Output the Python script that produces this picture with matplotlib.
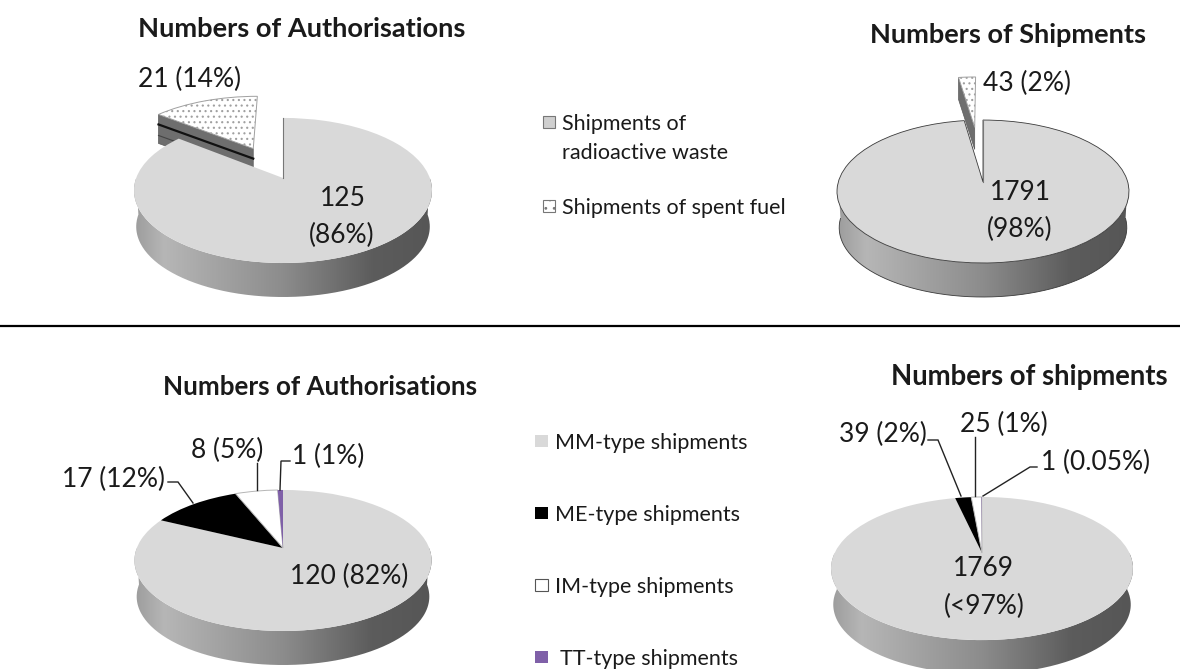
import numpy as np
import matplotlib
matplotlib.use("Agg")
import matplotlib.pyplot as plt
from matplotlib.colors import LinearSegmentedColormap
from matplotlib.path import Path
from matplotlib.patches import Polygon, Rectangle
from matplotlib.transforms import Transform

plt.rcParams['font.family'] = ['Lato', 'DejaVu Sans']
plt.rcParams['hatch.linewidth'] = 0.8

# ---- data ----
waste_vs_fuel_auth = [125, 21]
waste_vs_fuel_ship = [1791, 43]
types_auth = [120, 17, 8, 1]
types_ship = [1769, 39, 25, 1]

colors_top = ['#d9d9d9', 'white']
colors_bottom = ['#d9d9d9', 'black', 'white', '#7f60a8']

GREY = '#d9d9d9'
TEXT = '#1a1a1a'
W, H = 1180, 669

fig = plt.figure(figsize=(W / 100, H / 100), dpi=100)
ax = fig.add_axes([0, 0, 1, 1])

ramp = LinearSegmentedColormap.from_list(
    'rim', [(0, '#9c9c9c'), (0.1, '#b6b6b6'), (0.5, '#8c8c8c'), (0.8, '#5c5c5c'), (1, '#565656')])


class Persp(Transform):
    """Tilted-disc projection of the unit pie onto the page."""
    input_dims = output_dims = 2
    is_separable = False
    has_inverse = False

    def __init__(self, cx, cy, rx, ry, k):
        super().__init__()
        self.p = (cx, cy, rx, ry, k)

    def transform_non_affine(self, v):
        cx, cy, rx, ry, k = self.p
        v = np.asarray(v, float)
        w = 1 + k * v[:, 1]
        return np.column_stack([cx + rx * v[:, 0] / w, cy - ry * v[:, 1] / w])


def draw_pie(values, colors, geom, rim_bottom, explode=None, edge='none', lw=0.6,
             hatch_idx=None, wall_depth=22, wall_bands=False):
    cx, cy, rx, ry, k = geom
    tr = Persp(*geom)
    expl = explode if explode else [0] * len(values)
    wedges, _ = ax.pie(values, colors=colors, startangle=90, counterclock=False,
                       explode=expl, wedgeprops=dict(edgecolor=edge, linewidth=lw))
    for w, e, c in zip(wedges, expl, colors):
        w.set_transform(tr + ax.transData)
        w.set_zorder(0.6 if e else 2)
        if c == 'white' and not e:
            w.set(edgecolor='#b5b5b5', linewidth=0.7)
    # side rim of the disc
    t = np.linspace(np.pi, 2 * np.pi, 200)
    top = tr.transform_non_affine(np.column_stack([np.cos(t), np.sin(t)]))
    top_min = top[:, 1].max()
    sx, sy = 0.985, 0.97
    d = rim_bottom - (cy + (top_min - cy) * sy)
    bot = np.column_stack([cx + (top[:, 0] - cx) * sx, cy + (top[:, 1] - cy) * sy + d])
    verts = np.vstack([top, bot[::-1]])
    im = ax.imshow(np.linspace(0, 1, 256)[None, :], extent=(top[:, 0].min(), top[:, 0].max(), rim_bottom, cy),
                   aspect='auto', cmap=ramp, zorder=1)
    im.set_clip_path(Path(verts), ax.transData)
    if edge != 'none':
        ax.plot(bot[:, 0], bot[:, 1], color=edge, lw=lw, zorder=1.5)
    # cut face of an exploded slice
    for i, e in enumerate(expl):
        if not e:
            continue
        total = sum(values)
        a0 = 90 - 360 * sum(values[:i]) / total
        a1 = a0 - 360 * values[i] / total
        m = np.radians((a0 + a1) / 2)
        off = e * np.array([np.cos(m), np.sin(m)])
        apex = tr.transform_non_affine(off[None, :])[0]
        rim_dir = np.array([np.cos(np.radians(a0)), np.sin(np.radians(a0))])
        corner = tr.transform_non_affine((off + rim_dir)[None, :])[0]
        wall = [corner, apex, apex + [0, wall_depth], corner + [0, wall_depth]]
        ax.add_patch(Polygon(wall, closed=True, fc='#6e6e6e', ec='#5a5a5a', lw=0.5, zorder=0.5))
        if wall_bands:
            ax.plot([corner[0], apex[0]], [corner[1] + 10, apex[1] + 10], color='#111111', lw=1.6, zorder=0.55)
            ax.plot([corner[0], apex[0]], [corner[1] + 21, apex[1] + 21], color='#444444', lw=0.8, zorder=0.55)
        if hatch_idx == i:
            wedges[i].set(hatch='...', edgecolor='#a0a0a0', linewidth=0.7)
        # dark cut edge on the main disc
        edge_pts = tr.transform_non_affine(np.array([[0.0, 0.0], [0.0, 1.0]]))
        ax.plot(edge_pts[:, 0], edge_pts[:, 1], color='#777777', lw=0.8, zorder=2.1)
    return wedges


draw_pie(waste_vs_fuel_auth, colors_top, (283, 178, 146.8, 70.4, 0.172), 297,
         explode=[0, 0.5], hatch_idx=1, wall_depth=29, wall_bands=True)
draw_pie(waste_vs_fuel_ship, colors_top, (983, 182, 144.7, 70.2, 0.133), 297,
         explode=[0, 0.87], edge='#3a3a3a', hatch_idx=1)
draw_pie(types_auth, colors_bottom, (283, 548, 146.2, 68.3, 0.177), 665)
draw_pie(types_ship, colors_bottom, (982, 553, 147.4, 68.2, 0.217), 674)

# ---- separator ----
ax.plot([0, W], [325.5, 325.5], color='black', lw=1.6, zorder=3)

# ---- leaders ----
leaders = [
    [(168, 482), (178, 482), (193, 503)],
    [(257, 463), (257, 490)],
    [(290, 461), (281, 461), (280, 490)],
    [(928, 440), (938, 440), (961, 496)],
    [(975, 437), (975, 496)],
    [(1037, 467), (1030, 467), (983, 496)],
]
for seg in leaders:
    xs, ys = zip(*seg)
    ax.plot(xs, ys, color='#222222', lw=1.0, zorder=3, solid_joinstyle='miter')


def txt(x, y, s, size=19, ha='center', weight='normal'):
    ax.text(x, y + 2, s, fontsize=size, ha=ha, va='center', color=TEXT, fontweight=weight, zorder=4)


# ---- titles ----
txt(302, 27, 'Numbers of Authorisations', 19.6, weight='bold')
txt(1008, 33, 'Numbers of Shipments', 19.5, weight='bold')
txt(320, 385, 'Numbers of Authorisations', 18.7, weight='bold')
txt(1029, 375, 'Numbers of shipments', 19.8, weight='bold')

# ---- data labels ----
txt(190, 77, '21 (14%)')
txt(343, 196, '125')
txt(342, 233, '(86%)')
txt(1027, 81, '43 (2%)')
txt(1020, 191, '1791')
txt(1020, 227, '(98%)')
txt(349, 574, '120 (82%)')
txt(113, 477, '17 (12%)')
txt(227, 448, '8 (5%)')
txt(328, 454, '1 (1%)')
txt(883, 432, '39 (2%)')
txt(1004, 422, '25 (1%)')
txt(1096, 460, '1 (0.05%)')
txt(983, 567, '1769')
txt(984, 604, '(<97%)')

# ---- legends ----
LS = 15.5


def swatch(x, y, fc, ec='none', hatch=None, size=12.5):
    ax.add_patch(Rectangle((x, y - size / 2), size, size, fc=fc, ec=ec, lw=0.8, hatch=hatch, zorder=3))


swatch(542.5, 122, '#cfcfcf', '#777777')
txt(562, 122, 'Shipments of', LS, ha='left')
txt(562, 151, 'radioactive waste', LS, ha='left')
swatch(542.5, 206, 'white', '#777777', hatch='..')
txt(562, 206, 'Shipments of spent fuel', LS, ha='left')

swatch(535, 441, GREY)
txt(555, 441, 'MM-type shipments', LS, ha='left')
swatch(535, 513, 'black')
txt(555, 513, 'ME-type shipments', LS, ha='left')
swatch(535, 585, 'white', '#555555')
txt(555, 585, 'IM-type shipments', LS, ha='left')
swatch(535, 657, '#7f60a8')
txt(560, 657, 'TT-type shipments', LS, ha='left')

ax.set_aspect('auto')
ax.set_xlim(0, W)
ax.set_ylim(H, 0)
ax.axis('off')
fig.savefig('out.png', dpi=100)
